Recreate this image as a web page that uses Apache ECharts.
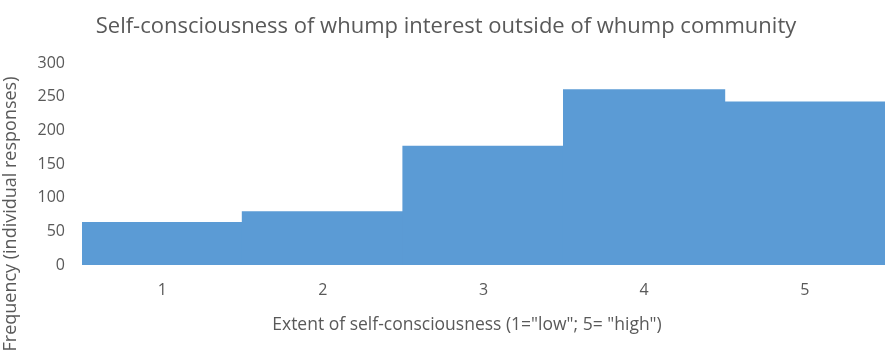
<!DOCTYPE html>
<html>
<head>
<meta charset="utf-8">
<script src="https://cdn.jsdelivr.net/npm/echarts@6/dist/echarts.min.js"></script>
<style>
  html, body { margin: 0; padding: 0; background: #fff; }
  #chart { width: 892px; height: 352px; }
</style>
</head>
<body>
<div id="chart"></div>
<script>
// Self-consciousness rating (1 = low, 5 = high) and response counts
const categories = ['1', '2', '3', '4', '5'];
const frequencies = [64, 80, 177, 261, 243];
const yTicks = [0, 50, 100, 150, 200, 250, 300];

const textColor = '#595959';
const barColor = '#5B9BD5';
const fontFamily = '"Open Sans", "Noto Sans", sans-serif';

const chart = echarts.init(document.getElementById('chart'), null, { renderer: 'canvas' });
chart.setOption({
  animation: false,
  title: {
    text: 'Self-consciousness of whump interest outside of whump community',
    left: 441,
    textAlign: 'center',
    top: 11,
    textStyle: { color: textColor, fontSize: 22, fontWeight: 'normal', fontFamily: fontFamily }
  },
  grid: { left: 82, right: 7, top: 63, bottom: 87 },
  xAxis: {
    type: 'category',
    data: categories,
    boundaryGap: true,
    axisLine: { show: false },
    axisTick: { show: false },
    axisLabel: { color: textColor, fontSize: 16, margin: 17, fontFamily: fontFamily },
    name: 'Extent of self-consciousness (1="low"; 5= "high")',
    nameLocation: 'middle',
    nameGap: 51,
    nameTextStyle: { color: textColor, fontSize: 17.5, fontFamily: fontFamily, padding: [0, 33, 0, 0] }
  },
  yAxis: {
    type: 'value',
    min: yTicks[0],
    max: yTicks[yTicks.length - 1],
    interval: 50,
    splitLine: { show: false },
    axisLine: { show: false },
    axisTick: { show: false },
    axisLabel: { color: textColor, fontSize: 16, margin: 17, fontFamily: fontFamily }
  },
  graphic: [{
    type: 'text',
    x: 2,
    y: 214,
    rotation: Math.PI / 2,
    style: {
      text: 'Frequency (individual responses)',
      fill: textColor,
      font: '18px ' + fontFamily,
      textAlign: 'center',
      textVerticalAlign: 'top'
    }
  }],
  series: [{
    type: 'bar',
    data: frequencies,
    // slightly wider than the band so neighbouring bars overlap with no seam
    barWidth: '101%',
    barCategoryGap: 0,
    itemStyle: { color: barColor }
  }]
});
</script>
</body>
</html>
